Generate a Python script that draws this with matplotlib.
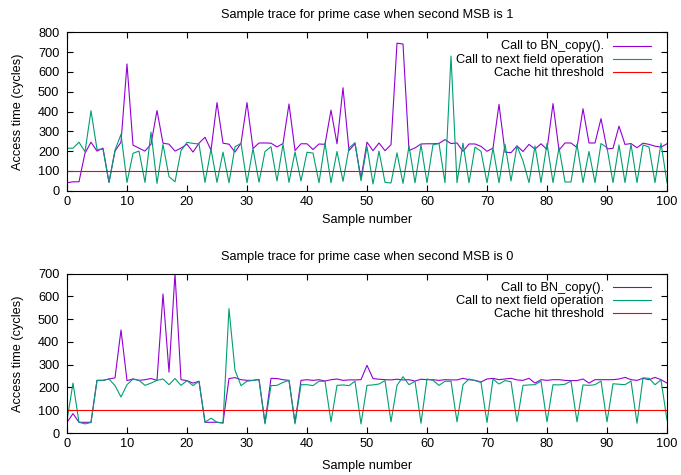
import matplotlib
matplotlib.use("Agg")
import matplotlib.pyplot as plt
from matplotlib.lines import Line2D

plt.rcParams['font.family'] = ['Liberation Sans', 'DejaVu Sans']

samples = list(range(101))

# MSB = 1
top_bn_copy = [40, 45, 45, 190, 245, 200, 215, 42, 200, 245,
               640, 230, 215, 200, 235, 405, 240, 235, 200, 215,
               235, 195, 240, 270, 205, 445, 240, 235, 195, 240,
               445, 213, 241, 241, 240, 221, 238, 438, 203, 237,
               237, 208, 236, 234, 407, 237, 520, 203, 237, 62,
               245, 202, 241, 202, 232, 745, 741, 203, 216, 236,
               237, 237, 239, 258, 238, 241, 199, 236, 236, 224,
               199, 215, 436, 195, 192, 226, 198, 234, 210, 237,
               208, 440, 205, 241, 241, 218, 414, 241, 241, 364,
               211, 214, 326, 234, 238, 217, 240, 234, 225, 220,
               237]
top_next_op = [214, 215, 245, 197, 404, 209, 209, 42, 205, 285,
               42, 189, 200, 42, 296, 37, 234, 71, 45, 202,
               244, 239, 236, 42, 210, 42, 195, 40, 222, 239,
               40, 213, 43, 198, 222, 49, 234, 42, 196, 49,
               194, 190, 40, 241, 40, 198, 47, 215, 243, 50,
               223, 34, 200, 42, 39, 191, 37, 226, 40, 232,
               40, 232, 238, 40, 680, 40, 240, 40, 220, 199,
               40, 215, 40, 235, 49, 226, 150, 41, 226, 41,
               238, 41, 218, 44, 44, 235, 41, 198, 41, 238,
               218, 41, 231, 41, 235, 41, 231, 221, 41, 240,
               40]

# MSB = 0
bot_bn_copy = [47, 85, 47, 47, 47, 231, 231, 237, 242, 452,
               230, 237, 231, 234, 239, 231, 610, 267, 700, 234,
               230, 219, 227, 47, 47, 47, 44, 239, 243, 234,
               231, 231, 235, 45, 240, 239, 234, 231, 46, 231,
               234, 231, 234, 228, 234, 237, 231, 233, 233, 234,
               297, 239, 236, 234, 233, 236, 233, 234, 228, 236,
               234, 234, 231, 234, 233, 233, 240, 234, 231, 224,
               237, 240, 234, 237, 240, 233, 231, 240, 219, 234,
               231, 234, 234, 231, 230, 230, 237, 219, 234, 234,
               234, 234, 237, 244, 234, 231, 240, 234, 244, 234,
               219]
bot_next_op = [55, 219, 47, 40, 46, 231, 231, 237, 208, 158,
               212, 237, 231, 209, 219, 231, 237, 212, 239, 209,
               230, 208, 227, 47, 65, 47, 44, 546, 275, 208,
               227, 231, 234, 40, 208, 209, 222, 231, 40, 212,
               212, 208, 227, 227, 49, 209, 211, 208, 227, 40,
               209, 211, 215, 230, 49, 209, 247, 212, 227, 43,
               237, 231, 209, 227, 227, 49, 212, 237, 230, 222,
               46, 237, 215, 230, 225, 49, 209, 211, 212, 228,
               49, 212, 211, 214, 228, 49, 211, 209, 212, 228,
               49, 216, 214, 212, 228, 43, 242, 240, 212, 233,
               57]

threshold = 100

titles = ["Sample trace for prime case when second MSB is 1",
          "Sample trace for prime case when second MSB is 0"]
series_labels = ["Call to BN_copy().", "Call to next field operation",
                 "Cache hit threshold"]
ylims = [800, 700]

col_purple = "#9400d3"
col_green = "#009e73"
col_red = "#ff0000"
colors = [col_purple, col_green, col_red]

W, H = 681, 475
fig = plt.figure(figsize=(W / 100, H / 100), dpi=100)
ax_left, ax_w = 67, 600
axes_px = [(32.3, 190.7), (273.5, 433.0)]
axes = []
for top, bot in axes_px:
    axes.append(fig.add_axes([ax_left / W, 1 - bot / H, ax_w / W, (bot - top) / H]))

data = [(top_bn_copy, top_next_op), (bot_bn_copy, bot_next_op)]
fs = 9.2
lw = 0.8

title_pads = [10, 10]
xlabel_pads = [4.5, 7]

for i, (ax, (a, b), title, ymax) in enumerate(zip(axes, data, titles, ylims)):
    ax.plot(samples, a, color=col_purple, lw=lw)
    ax.plot(samples, b, color=col_green, lw=lw)
    ax.axhline(threshold, color=col_red, lw=lw)
    ax.set_xlim(0, 100)
    ax.set_ylim(0, ymax)
    ax.set_xticks(range(0, 101, 10))
    ax.set_yticks(range(0, ymax + 1, 100))
    ax.tick_params(direction='in', length=4, width=0.8, top=True, right=True,
                   labelsize=fs)
    ax.tick_params(axis='x', pad=3.5)
    ax.tick_params(axis='y', pad=5.5)
    for s in ax.spines.values():
        s.set_linewidth(0.8)
    ax.set_title(title, fontsize=fs, pad=title_pads[i])
    ax.set_xlabel("Sample number", fontsize=fs, labelpad=xlabel_pads[i])
    ax.set_ylabel("Access time (cycles)", fontsize=fs, labelpad=10)

    # gnuplot-style key: right-aligned text followed by line sample
    top_px, bot_px = axes_px[i]
    h = bot_px - top_px
    for k, (lab, col) in enumerate(zip(series_labels, colors)):
        yfrac = 1 - (14 + 13.2 * k) / h
        ax.text((604 - ax_left) / ax_w, yfrac, lab, transform=ax.transAxes,
                ha='right', va='center', fontsize=fs)
        ax.add_line(Line2D([(613 - ax_left) / ax_w, (651 - ax_left) / ax_w],
                           [yfrac + 0.004, yfrac + 0.004], color=col, lw=lw,
                           transform=ax.transAxes))

fig.savefig("out.png", dpi=100)
